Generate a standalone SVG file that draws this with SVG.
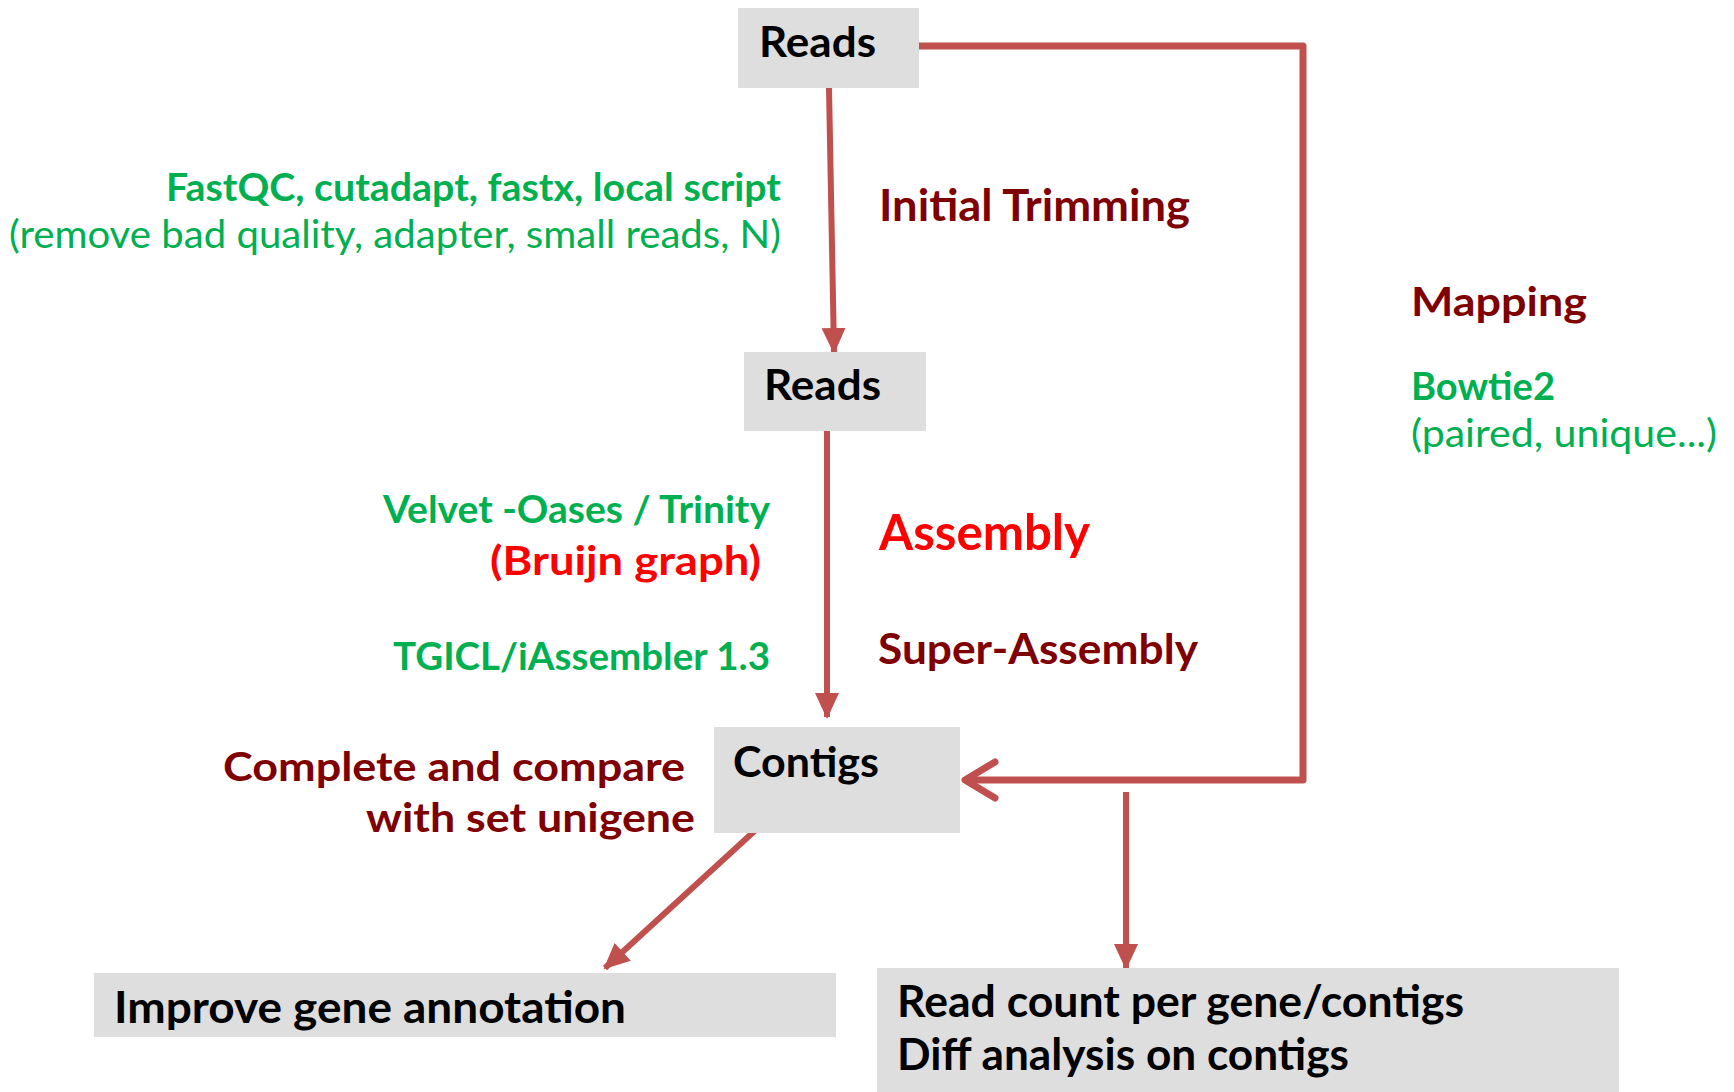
<svg xmlns="http://www.w3.org/2000/svg" width="1734" height="1092" viewBox="0 0 1734 1092">
  <style>
    text { font-family: Lato, "Open Sans", "Liberation Sans", sans-serif; }
    .box { fill: #DEDEDE; }
    .node { font-weight: bold; fill: #000000; }
    .tool { font-weight: bold; fill: #00B050; }
    .note { font-weight: normal; fill: #00B050; }
    .step { font-weight: bold; fill: #7F0000; }
    .hot { font-weight: bold; fill: #FF0000; }
    .flow { fill: none; stroke: #C0504D; stroke-width: 6; }
    .map { fill: none; stroke: #C0504D; stroke-width: 7; stroke-linejoin: round; }
  </style>
  <defs>
    <marker id="tri" markerUnits="userSpaceOnUse" markerWidth="26" markerHeight="26" viewBox="0 0 26 26" refX="24" refY="13" orient="auto">
      <path d="M0,1 L26,13 L0,25 Z" fill="#C0504D"/>
    </marker>
  </defs>

  <rect width="1734" height="1092" fill="#FFFFFF"/>

  <!-- connectors -->
  <g id="connectors">
    <path class="flow" d="M829,88 L834,352" marker-end="url(#tri)"/>
    <path class="flow" d="M827,422 L827,717" marker-end="url(#tri)"/>
    <path class="flow" d="M760,826 L605,968" marker-end="url(#tri)"/>
    <path class="flow" d="M1126,792 L1126,968" marker-end="url(#tri)"/>
    <path class="map" d="M919,46 L1303,46 L1303,780 L966,780"/>
    <path class="map" d="M995,762 L965,780 L995,798" stroke-linecap="round"/>
  </g>

  <!-- nodes -->
  <g id="reads-raw">
    <rect class="box" x="738" y="8" width="181" height="80"/>
    <text class="node" x="759" y="57" font-size="42" textLength="117" lengthAdjust="spacingAndGlyphs">Reads</text>
  </g>
  <g id="reads-trimmed">
    <rect class="box" x="744" y="352" width="182" height="79"/>
    <text class="node" x="764" y="400" font-size="42" textLength="117" lengthAdjust="spacingAndGlyphs">Reads</text>
  </g>
  <g id="contigs">
    <rect class="box" x="714" y="727" width="246" height="106"/>
    <text class="node" x="733" y="777" font-size="42" textLength="146" lengthAdjust="spacingAndGlyphs">Contigs</text>
  </g>
  <g id="annotation">
    <rect class="box" x="94" y="973" width="742" height="64"/>
    <text class="node" x="114" y="1023" font-size="43" textLength="512" lengthAdjust="spacingAndGlyphs">Improve  gene annotation</text>
  </g>
  <g id="counts">
    <rect class="box" x="877" y="968" width="742" height="124"/>
    <text class="node" x="897" y="1017" font-size="43" textLength="567" lengthAdjust="spacingAndGlyphs">Read count per gene/contigs</text>
    <text class="node" x="897" y="1070" font-size="43" textLength="452" lengthAdjust="spacingAndGlyphs">Diff analysis on contigs</text>
  </g>

  <!-- labels -->
  <g id="labels">
    <text class="tool" x="166" y="201" font-size="39" textLength="615" lengthAdjust="spacingAndGlyphs">FastQC, cutadapt, fastx, local script</text>
    <text class="note" x="9" y="248" font-size="39" textLength="772" lengthAdjust="spacingAndGlyphs">(remove bad quality, adapter, small reads, N)</text>
    <text class="step" x="879" y="221" font-size="43" textLength="311" lengthAdjust="spacingAndGlyphs">Initial Trimming</text>

    <text class="step" x="1411" y="316" font-size="41" textLength="176" lengthAdjust="spacingAndGlyphs">Mapping</text>
    <text class="tool" x="1411" y="400" font-size="39" textLength="144" lengthAdjust="spacingAndGlyphs">Bowtie2</text>
    <text class="note" x="1411" y="447" font-size="39" textLength="306" lengthAdjust="spacingAndGlyphs">(paired, unique...)</text>

    <text class="tool" x="383" y="523" font-size="38" textLength="387" lengthAdjust="spacingAndGlyphs">Velvet -Oases / Trinity</text>
    <text class="hot" x="490" y="575" font-size="41" textLength="271" lengthAdjust="spacingAndGlyphs">(Bruijn graph)</text>
    <text class="hot" x="879" y="550" font-size="49" textLength="211" lengthAdjust="spacingAndGlyphs">Assembly</text>

    <text class="tool" x="393" y="670" font-size="38" textLength="377" lengthAdjust="spacingAndGlyphs">TGICL/iAssembler 1.3</text>
    <text class="step" x="878" y="664" font-size="42" textLength="320" lengthAdjust="spacingAndGlyphs">Super-Assembly</text>

    <text class="step" x="223" y="781" font-size="41" textLength="462" lengthAdjust="spacingAndGlyphs">Complete and compare</text>
    <text class="step" x="366" y="832" font-size="41" textLength="329" lengthAdjust="spacingAndGlyphs">with set unigene</text>
  </g>
</svg>
